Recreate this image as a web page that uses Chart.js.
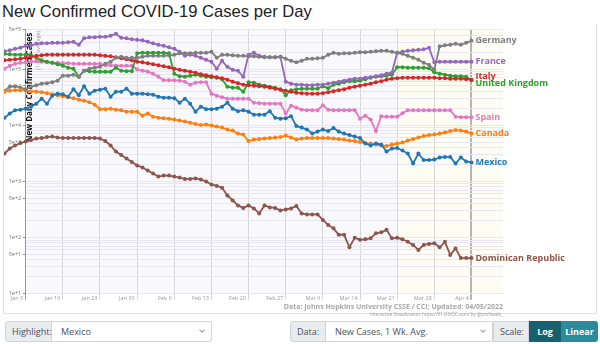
<!DOCTYPE html>
<html lang="en">
<head>
<meta charset="UTF-8">
<title>New Confirmed COVID-19 Cases per Day</title>
<script src="https://cdn.jsdelivr.net/npm/chart.js@4.4.1/dist/chart.umd.min.js"></script>
<style>
  body { margin:0; width:600px; height:344px; overflow:hidden; background:#fff; position:relative; font-family:"Open Sans", sans-serif; }
  h1 { position:absolute; left:2px; top:2px; margin:0; font:16.6px "Liberation Sans", Arial, sans-serif; color:#222; white-space:nowrap; }
  #card { position:absolute; left:3px; top:24px; width:594px; height:290px; box-sizing:border-box; border:1px solid #e2e2e2; border-top:none; }
  #wrap { position:absolute; left:4px; top:25px; width:592px; height:287px; overflow:hidden; }
  .src { position:absolute; right:97px; white-space:nowrap; text-align:right; }
  .src1 { top:302px; font-size:7px; font-weight:bold; color:#a8a8a8; }
  .src2 { top:311px; font-size:4.5px; color:#999; }
  .ctl { position:absolute; top:321px; height:21px; box-sizing:border-box; border:1px solid #ced4da; font-size:9px; color:#495057; display:flex; align-items:center; padding:0 6px; white-space:nowrap; }
  .lbl { background:#e9ecef; border-radius:3px 0 0 3px; }
  .sel { background:#fff; border-left:none; border-radius:0 3px 3px 0; padding-left:9px; }
  .sel:after { content:""; position:absolute; right:7px; top:6px; width:3px; height:3px; border-right:1px solid #999; border-bottom:1px solid #999; transform:rotate(45deg); }
  .btn { color:#fff; font-weight:bold; border:none; justify-content:center; }
</style>
</head>
<body>
<h1>New Confirmed COVID-19 Cases per Day</h1>
<div id="card"></div>
<div id="wrap"><canvas id="myChart" width="592" height="287"></canvas></div>
<div class="src src1">Data: Johns Hopkins University CSSE / CCI; Updated: 04/05/2022</div>
<div class="src src2">Interactive Visualization: https://91-DIVOC.com/ by @profwade_</div>

<div class="ctl lbl" style="left:5px;width:47px;">Highlight:</div>
<div class="ctl sel" style="left:52px;width:160px;">Mexico</div>
<div class="ctl lbl" style="left:290px;width:36px;">Data:</div>
<div class="ctl sel" style="left:326px;width:167px;">New Cases, 1 Wk. Avg.</div>
<div class="ctl lbl" style="left:493px;width:36px;border-radius:0;">Scale:</div>
<div class="ctl btn" style="left:529px;width:32px;background:#17616f;">Log</div>
<div class="ctl btn" style="left:561px;width:37px;background:#2b8b9b;border-radius:0 3px 3px 0;">Linear</div>

<script>
// days are counted from Jan 9 2022; the series start 4 days earlier (Jan 5)
const firstDay = -4;
const tickLabels = ["Jan 9", "Jan 16", "Jan 23", "Jan 30", "Feb 6", "Feb 13", "Feb 20", "Feb 27", "Mar 6", "Mar 14", "Mar 21", "Mar 28", "Apr 4"];
const countries = ["Mexico", "Germany", "France", "Italy", "United Kingdom", "Spain", "Canada", "Dominican Republic"];
const colors = ["#1f77b4", "#7f7f7f", "#9467bd", "#d62728", "#2ca02c", "#e377c2", "#ff7f0e", "#8c564b"];

const mexico = [13600, 16100, 18500, 18900,
  19700, 21400, 24200, 29700, 24200, 33600, 36400, 35700, 32200, 43800, 34300, 49500, 36400, 41200,
  42900, 44700, 32200, 39500, 39500, 44700, 36400, 36400, 36400, 35700, 35000, 32200, 30900, 30900,
  30300, 25200, 29700, 24200, 17400, 21400, 19300, 19300, 19700, 21400, 25200, 19700, 17800, 18500,
  17400, 15400, 15400, 15400, 17800, 13600, 13100, 13300, 14500, 9650, 9080, 8360, 7100, 7700,
  8360, 7860, 8900, 7700, 7100, 6670, 6280, 5910, 4720, 4350, 4720, 4530, 3400, 3840,
  3920, 3540, 3130, 2080, 3130, 2400, 2400, 2450, 2660, 2720, 2720, 2080, 2660, 2260, 2170];
const germany = [41200, 48500, 49500, 46600,
  43800, 48500, 51600, 54900, 56000, 58300, 62000, 76100, 76100, 79200, 73000, 93300, 101300, 105500,
  109900, 124200, 134800, 158800, 165400, 158800, 158800, 158800, 165400, 172300, 172300, 172300, 172300, 176000,
  179500, 191000, 191000, 191000, 194800, 194800, 194800, 202900, 158800, 179500, 179500, 176000, 172300, 172300,
  169000, 169000, 165400, 162000, 162000, 162000, 165400, 152400, 140400, 132000, 140400, 152400, 152400, 155600,
  158800, 179500, 194800, 187000, 191000, 191000, 194800, 199000, 199000, 202900, 207000, 211400, 211400, 202900,
  194800, 187000, 172300, 158800, 146300, 129400, 119200, 97200, 254000, 265000, 270000, 282000, 270000, 293000, 318000];
const france = [207000, 216000, 229000, 239000,
  259000, 265000, 282000, 287000, 287000, 293000, 293000, 293000, 299000, 305000, 270000, 352000, 367000, 367000,
  375000, 375000, 390000, 424000, 360000, 352000, 338000, 331000, 325000, 305000, 287000, 270000, 259000, 244000,
  229000, 203000, 172000, 180000, 172000, 159000, 146000, 135000, 101000, 140000, 110000, 97000, 93000, 73000,
  180000, 195000, 172000, 165000, 162000, 162000, 165000, 59500, 54900, 52700, 52700, 51600, 51600, 52700,
  52700, 54900, 57100, 59500, 62000, 64600, 67300, 67300, 70100, 71500, 74500, 77600, 82500, 86000,
  195000, 203000, 211000, 216000, 220000, 225000, 239000, 132000, 135000, 135000, 135000, 135000, 135000, 135000, 135000];
const italy = [143000, 146000, 149000, 152000,
  159000, 165000, 172000, 176000, 180000, 180000, 180000, 180000, 180000, 180000, 180000, 180000, 180000, 180000,
  176000, 172000, 169000, 162000, 156000, 149000, 143000, 135000, 132000, 127000, 122000, 117000, 112000, 108000,
  101000, 97200, 93300, 89600, 86000, 80800, 77600, 74500, 71500, 68700, 64600, 59500, 56000, 52700,
  51600, 50600, 49500, 48500, 46600, 44700, 42900, 41200, 39500, 37900, 37200, 36400, 36400, 36400,
  37200, 38700, 40300, 42000, 43800, 46600, 48500, 50600, 52700, 54900, 58300, 60700, 64600, 67300,
  68700, 70100, 70100, 70100, 70100, 70100, 70100, 70100, 68700, 68700, 67300, 67300, 67300, 65900, 64600];
const unitedKingdom = [187000, 183000, 180000, 180000,
  180000, 176000, 159000, 143000, 135000, 129000, 122000, 115000, 106000, 101000, 73000, 93300, 91500, 89600,
  89600, 89600, 89600, 106000, 93300, 91500, 91500, 191000, 195000, 195000, 195000, 195000, 195000, 191000,
  82500, 74500, 73000, 76100, 79200, 76100, 73000, 71500, 70100, 65900, 48500, 46600, 46600, 39500,
  58300, 57100, 52700, 50600, 48500, 46600, 43800, 34300, 42000, 43800, 44700, 44700, 44700, 44700,
  49500, 45600, 52700, 54900, 58300, 60700, 60700, 62000, 65900, 70100, 73000, 74500, 76100, 79200,
  108000, 108000, 106000, 106000, 106000, 106000, 103000, 87800, 82500, 79200, 76100, 74500, 74500, 73000, 63300];
const spain = [101000, 114500, 124000, 129000,
  132000, 135000, 137500, 135000, 132000, 129000, 129000, 127000, 127000, 124000, 124000, 124000, 124000, 124000,
  124000, 117000, 117000, 114500, 114500, 114500, 114500, 99000, 93300, 89600, 82500, 73000, 63300, 63300,
  63300, 62000, 59500, 52700, 57100, 58300, 58300, 36400, 33600, 31500, 29700, 29700, 29700, 29700,
  29700, 25200, 24700, 24200, 24200, 24200, 24200, 16100, 22300, 20500, 18900, 18500, 18500, 18500,
  22700, 18900, 18500, 18500, 18500, 18500, 18500, 13100, 14800, 12600, 7860, 14500, 14200, 14200,
  14200, 16400, 18400, 18400, 18400, 18400, 18400, 18400, 18400, 18400, 18400, 14200, 13900, 13900, 13900];
const canada = [39500, 41200, 42000, 42000,
  41200, 40300, 39500, 38700, 37200, 35700, 34300, 32900, 31500, 30300, 28500, 27400, 25700, 23200,
  19300, 19300, 19700, 18900, 18500, 17400, 17400, 17400, 14800, 16100, 14200, 13600, 13300, 13100,
  12600, 12100, 11600, 11100, 10500, 10100, 10300, 9850, 9460, 9080, 8360, 8030, 7100, 6810,
  5220, 5550, 5670, 5790, 5910, 6030, 6150, 6540, 6030, 5550, 5790, 5910, 5910, 5910,
  5910, 5910, 5790, 5670, 5550, 5330, 5220, 5010, 4810, 4720, 4530, 4350, 4260, 4530,
  4720, 4910, 5330, 5670, 6030, 6410, 6670, 6810, 7100, 7390, 7860, 8190, 8030, 7700, 7100];
const dominicanRepublic = [3130, 3840, 4350, 4810,
  5120, 5440, 5790, 5910, 6150, 6280, 6030, 5950, 5950, 5950, 5950, 5950, 5950, 5950,
  5790, 5220, 4350, 3400, 2950, 2550, 2210, 1920, 1770, 1560, 1380, 1220, 1270, 1270,
  1220, 1170, 1105, 1105, 1127, 1082, 997, 882, 830, 770, 562, 458, 373, 337,
  373, 330, 269, 373, 344, 337, 304, 317, 330, 365, 269, 258, 258, 258,
  206, 168, 146, 112, 112, 67, 99, 91, 93, 97, 119, 124, 137, 97,
  99, 93, 84, 74, 60, 74, 77, 79, 67, 84, 49, 64, 43, 43, 43];

const series = [mexico, germany, france, italy, unitedKingdom, spain, canada, dominicanRepublic];
const font = "'Open Sans', sans-serif";

const yTicks = [];
for (let e = 1; e <= 5; e++) {
  for (let m = 1; m <= 9; m++) {
    if (m * Math.pow(10, e) <= 500000) yTicks.push(m * Math.pow(10, e));
  }
}
function isLabelled(v) {
  const m = Math.round(v / Math.pow(10, Math.floor(Math.log10(v) + 1e-9)));
  return m === 1 || m === 5;
}

const decor = {
  id: 'decor',
  beforeDraw(chart) {
    const {ctx, chartArea: a, scales} = chart;
    ctx.save();
    ctx.fillStyle = '#f9f8fd';
    ctx.fillRect(a.left, a.top, a.right - a.left, a.bottom - a.top);
    const x0 = scales.x.getPixelForValue(70);
    ctx.fillStyle = '#fdfdf4';
    ctx.fillRect(x0, a.top, a.right - x0, a.bottom - a.top);
    ctx.restore();
  },
  beforeDatasetsDraw(chart) {
    const {ctx, chartArea: a} = chart;
    ctx.save();
    ctx.translate(a.left + 4.5, a.top + 3);
    ctx.rotate(-Math.PI / 2);
    ctx.textAlign = 'right';
    ctx.textBaseline = 'middle';
    ctx.fillStyle = '#111';
    ctx.font = "bold 8px " + font;
    ctx.fillText('New Daily Confirmed Cases', 0, 0);
    ctx.fillStyle = '#999';
    ctx.font = "5.5px " + font;
    ctx.fillText('(7-day average)', 2, 8);
    ctx.restore();
  },
  afterDatasetsDraw(chart) {
    const {ctx, chartArea: a} = chart;
    // points left of the y axis are skipped by the library, draw them too
    chart.data.datasets.forEach((ds, i) => {
      chart.getDatasetMeta(i).data.forEach(p => { if (p.x < a.left) p.draw(ctx); });
    });
    const items = chart.data.datasets.map((ds, i) => {
      const pts = chart.getDatasetMeta(i).data;
      const last = pts[pts.length - 1];
      return {text: ds.label, color: ds.borderColor, x: last.x + 4, y: last.y};
    }).sort((p, q) => p.y - q.y);
    for (let k = 1; k < items.length; k++) {
      const gap = items[k].y - items[k - 1].y;
      if (gap < 7.5) {
        const shift = (7.5 - gap) / 2;
        items[k - 1].y -= shift;
        items[k].y += shift;
      }
    }
    ctx.save();
    ctx.font = "bold 9px " + font;
    ctx.textBaseline = 'middle';
    items.forEach(it => { ctx.fillStyle = it.color; ctx.fillText(it.text, it.x, it.y); });
    ctx.restore();
  }
};

new Chart("myChart", {
  type: "line",
  data: {
    datasets: series.map((vals, i) => ({
      label: countries[i],
      data: vals.map((v, k) => ({x: firstDay + k, y: v})),
      borderColor: colors[i],
      backgroundColor: colors[i],
      borderWidth: 1.8,
      pointRadius: 2,
      pointBorderWidth: 0,
      tension: 0,
      clip: false
    }))
  },
  options: {
    responsive: false,
    animation: false,
    events: [],
    layout: {padding: {left: 0, right: 92.7, top: 4.2, bottom: 8.3}},
    plugins: {legend: {display: false}, tooltip: {enabled: false}},
    scales: {
      x: {
        type: 'linear',
        afterDataLimits: s => { s.min = 0; s.max = 84; },
        afterBuildTicks: s => { s.ticks = tickLabels.map((t, i) => ({value: i * 7})); },
        afterFit: s => { s.height = 10; },
        ticks: {
          autoSkip: false, maxRotation: 0, align: 'end', labelOffset: -2.5, padding: -5,
          color: '#9a9a9a', font: {size: 5.5, family: font},
          callback: v => tickLabels[Math.round(v / 7)]
        },
        grid: {
          tickLength: 6,
          color: c => c.index === 0 ? '#9a9a9a' : (c.index === tickLabels.length - 1 ? '#b5b5b5' : '#d6d6d6'),
          lineWidth: c => c.index === tickLabels.length - 1 ? 2 : 1
        },
        border: {display: false}
      },
      y: {
        type: 'logarithmic',
        min: 10,
        max: 500000,
        afterBuildTicks: s => { s.ticks = yTicks.map(v => ({value: v})); },
        afterFit: s => { s.width = 21.7; },
        ticks: {
          autoSkip: false, padding: 1.5, color: '#777', font: {size: 5.5, family: font},
          callback: v => isLabelled(v) ? v.toExponential() : ''
        },
        grid: {
          tickLength: 3,
          color: '#e8e6f2',
          tickColor: c => (c.tick && isLabelled(c.tick.value)) ? '#999' : 'rgba(0,0,0,0)'
        },
        border: {color: '#9a9a9a', width: 1}
      }
    }
  },
  plugins: [decor]
});
</script>
</body>
</html>
